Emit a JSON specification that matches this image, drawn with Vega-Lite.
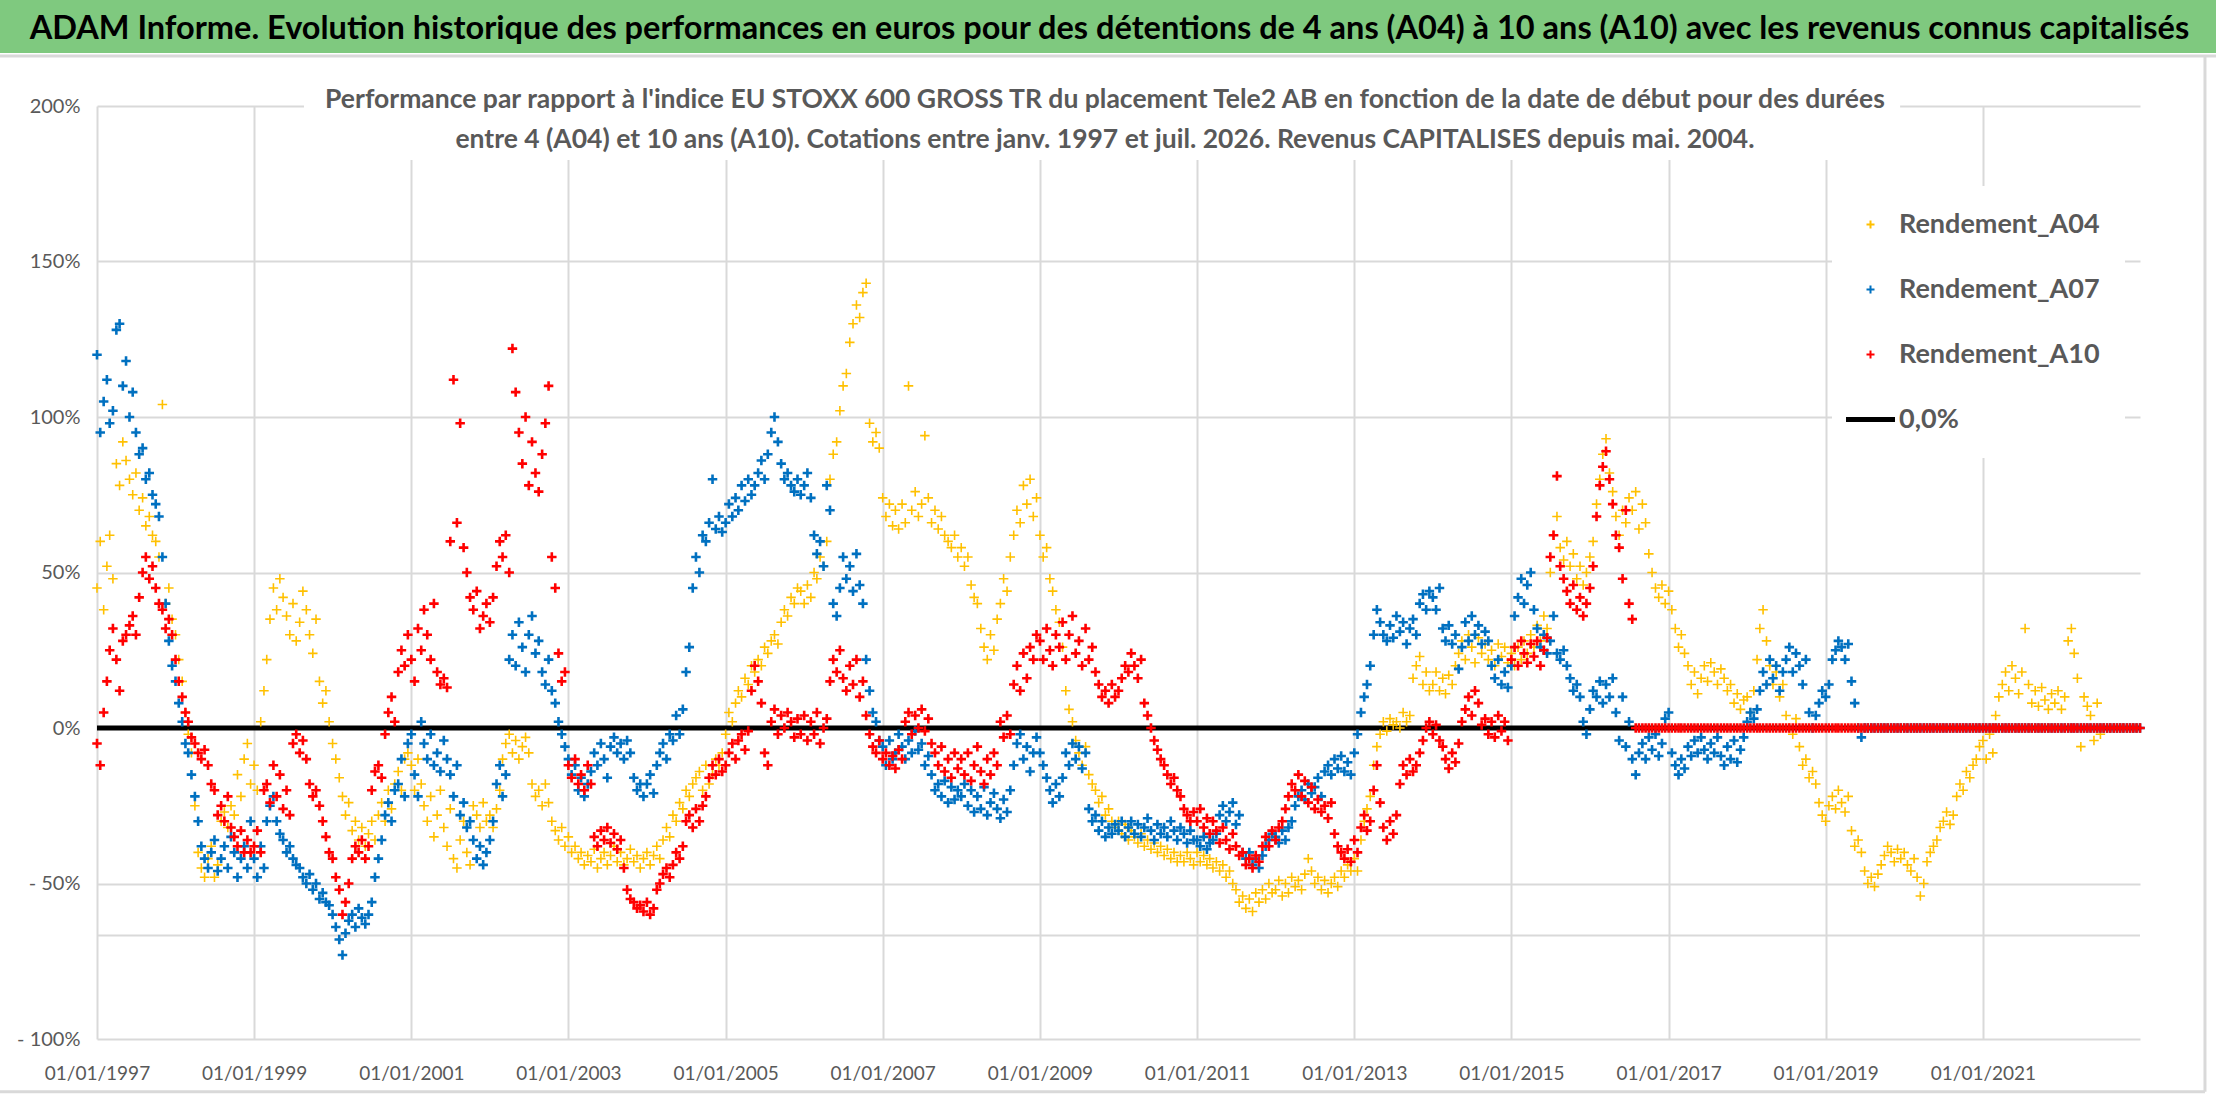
{
  "$schema": "https://vega.github.io/schema/vega-lite/v6.json",
  "width": 2043,
  "height": 933,
  "autosize": {"type": "none"},
  "padding": {"left": 97, "top": 106, "right": 76, "bottom": 63},
  "background": "#FFFFFF",
  "config": {
    "view": {"stroke": null},
    "font": "Lato",
    "axis": {"labelFont": "Lato", "labelColor": "#595959", "labelFontSize": 20, "gridColor": "#D9D9D9", "gridWidth": 2, "ticks": false, "tickSize": 0, "domain": false, "title": null}
  },
  "datasets": {
    "perf": [
      {"d":"1997-01-01","a":0.45,"b":1.2,"c":-0.05},{"d":"1997-01-16","a":0.6,"b":0.95,"c":-0.12},{"d":"1997-02-01","a":0.38,"b":1.05,"c":0.05},{"d":"1997-02-16","a":0.52,"b":1.12,"c":0.15},
      {"d":"1997-03-01","a":0.62,"b":0.98,"c":0.25},{"d":"1997-03-16","a":0.48,"b":1.02,"c":0.32},{"d":"1997-04-01","a":0.85,"b":1.28,"c":0.22},{"d":"1997-04-16","a":0.78,"b":1.3,"c":0.12},
      {"d":"1997-05-01","a":0.92,"b":1.1,"c":0.28},{"d":"1997-05-16","a":0.86,"b":1.18,"c":0.3},{"d":"1997-06-01","a":0.8,"b":1.0,"c":0.33},{"d":"1997-06-16","a":0.75,"b":1.08,"c":0.36},
      {"d":"1997-07-01","a":0.82,"b":0.95,"c":0.3},{"d":"1997-07-16","a":0.7,"b":0.88,"c":0.42},{"d":"1997-08-01","a":0.74,"b":0.9,"c":0.5},{"d":"1997-08-16","a":0.65,"b":0.8,"c":0.55},
      {"d":"1997-09-01","a":0.68,"b":0.82,"c":0.48},{"d":"1997-09-16","a":0.62,"b":0.75,"c":0.52},{"d":"1997-10-01","a":0.6,"b":0.72,"c":0.45},{"d":"1997-10-16","a":0.55,"b":0.68,"c":0.4},
      {"d":"1997-11-01","a":1.04,"b":0.55,"c":0.38},{"d":"1997-11-16","a":0.4,"b":0.4,"c":0.32},{"d":"1997-12-01","a":0.45,"b":0.28,"c":0.35},{"d":"1997-12-16","a":0.35,"b":0.2,"c":0.3},
      {"d":"1998-01-01","a":0.3,"b":0.15,"c":0.22},{"d":"1998-01-16","a":0.22,"b":0.08,"c":0.15},{"d":"1998-02-01","a":0.15,"b":0.02,"c":0.1},{"d":"1998-02-16","a":0.05,"b":-0.05,"c":0.05},
      {"d":"1998-03-01","a":-0.02,"b":-0.08,"c":0.02},{"d":"1998-03-16","a":-0.08,"b":-0.15,"c":-0.03},{"d":"1998-04-01","a":-0.25,"b":-0.22,"c":-0.05},{"d":"1998-04-16","a":-0.4,"b":-0.3,"c":-0.08},
      {"d":"1998-05-01","a":-0.45,"b":-0.38,"c":-0.1},{"d":"1998-05-16","a":-0.48,"b":-0.42,"c":-0.07},{"d":"1998-06-01","a":-0.42,"b":-0.45,"c":-0.12},{"d":"1998-06-16","a":-0.38,"b":-0.4,"c":-0.18},
      {"d":"1998-07-01","a":-0.48,"b":-0.36,"c":-0.2},{"d":"1998-07-16","a":-0.44,"b":-0.46,"c":-0.28},{"d":"1998-08-01","a":-0.3,"b":-0.42,"c":-0.25},{"d":"1998-08-16","a":-0.27,"b":-0.38,"c":-0.3},
      {"d":"1998-09-01","a":-0.32,"b":-0.45,"c":-0.22},{"d":"1998-09-16","a":-0.25,"b":-0.35,"c":-0.32},{"d":"1998-10-01","a":-0.28,"b":-0.4,"c":-0.35},{"d":"1998-10-16","a":-0.15,"b":-0.48,"c":-0.38},
      {"d":"1998-11-01","a":-0.22,"b":-0.42,"c":-0.33},{"d":"1998-11-16","a":-0.1,"b":-0.38,"c":-0.4},{"d":"1998-12-01","a":-0.05,"b":-0.45,"c":-0.36},{"d":"1998-12-16","a":-0.18,"b":-0.3,"c":-0.4},
      {"d":"1999-01-01","a":-0.12,"b":-0.42,"c":-0.38},{"d":"1999-01-16","a":-0.2,"b":-0.48,"c":-0.33},{"d":"1999-02-01","a":0.02,"b":-0.38,"c":-0.4},{"d":"1999-02-16","a":0.12,"b":-0.45,"c":-0.2},
      {"d":"1999-03-01","a":0.22,"b":-0.3,"c":-0.18},{"d":"1999-03-16","a":0.35,"b":-0.25,"c":-0.24},{"d":"1999-04-01","a":0.45,"b":-0.22,"c":-0.12},{"d":"1999-04-16","a":0.38,"b":-0.3,"c":-0.22},
      {"d":"1999-05-01","a":0.48,"b":-0.34,"c":-0.15},{"d":"1999-05-16","a":0.42,"b":-0.36,"c":-0.26},{"d":"1999-06-01","a":0.36,"b":-0.4,"c":-0.2},{"d":"1999-06-16","a":0.3,"b":-0.38,"c":-0.28},
      {"d":"1999-07-01","a":0.4,"b":-0.42,"c":-0.05},{"d":"1999-07-16","a":0.28,"b":-0.44,"c":-0.02},{"d":"1999-08-01","a":0.34,"b":-0.45,"c":-0.08},{"d":"1999-08-16","a":0.44,"b":-0.48,"c":-0.04},
      {"d":"1999-09-01","a":0.38,"b":-0.5,"c":-0.1},{"d":"1999-09-16","a":0.3,"b":-0.47,"c":-0.18},{"d":"1999-10-01","a":0.24,"b":-0.52,"c":-0.22},{"d":"1999-10-16","a":0.35,"b":-0.5,"c":-0.2},
      {"d":"1999-11-01","a":0.15,"b":-0.55,"c":-0.25},{"d":"1999-11-16","a":0.08,"b":-0.53,"c":-0.3},{"d":"1999-12-01","a":0.12,"b":-0.56,"c":-0.35},{"d":"1999-12-16","a":0.02,"b":-0.57,"c":-0.4},
      {"d":"2000-01-01","a":-0.05,"b":-0.6,"c":-0.42},{"d":"2000-01-16","a":-0.1,"b":-0.64,"c":-0.48},{"d":"2000-02-01","a":-0.16,"b":-0.68,"c":-0.52},{"d":"2000-02-16","a":-0.22,"b":-0.73,"c":-0.6},
      {"d":"2000-03-01","a":-0.28,"b":-0.66,"c":-0.56},{"d":"2000-03-16","a":-0.24,"b":-0.62,"c":-0.5},{"d":"2000-04-01","a":-0.33,"b":-0.6,"c":-0.42},{"d":"2000-04-16","a":-0.3,"b":-0.64,"c":-0.38},
      {"d":"2000-05-01","a":-0.36,"b":-0.58,"c":-0.4},{"d":"2000-05-16","a":-0.32,"b":-0.61,"c":-0.36},{"d":"2000-06-01","a":-0.38,"b":-0.63,"c":-0.42},{"d":"2000-06-16","a":-0.34,"b":-0.6,"c":-0.38},
      {"d":"2000-07-01","a":-0.3,"b":-0.56,"c":-0.2},{"d":"2000-07-16","a":-0.36,"b":-0.48,"c":-0.14},{"d":"2000-08-01","a":-0.28,"b":-0.42,"c":-0.12},{"d":"2000-08-16","a":-0.24,"b":-0.36,"c":-0.16},
      {"d":"2000-09-01","a":-0.3,"b":-0.28,"c":-0.02},{"d":"2000-09-16","a":-0.2,"b":-0.24,"c":0.05},{"d":"2000-10-01","a":-0.26,"b":-0.3,"c":0.1},{"d":"2000-10-16","a":-0.18,"b":-0.2,"c":0.02},
      {"d":"2000-11-01","a":-0.14,"b":-0.18,"c":0.18},{"d":"2000-11-16","a":-0.2,"b":-0.1,"c":0.25},{"d":"2000-12-01","a":-0.1,"b":-0.22,"c":0.2},{"d":"2000-12-16","a":-0.08,"b":-0.05,"c":0.3},
      {"d":"2001-01-01","a":-0.12,"b":-0.02,"c":0.22},{"d":"2001-01-16","a":-0.2,"b":-0.15,"c":0.15},{"d":"2001-02-01","a":-0.1,"b":-0.22,"c":0.32},{"d":"2001-02-16","a":-0.18,"b":0.02,"c":0.25},
      {"d":"2001-03-01","a":-0.25,"b":-0.05,"c":0.38},{"d":"2001-03-16","a":-0.3,"b":-0.1,"c":0.3},{"d":"2001-04-01","a":-0.22,"b":-0.02,"c":0.22},{"d":"2001-04-16","a":-0.35,"b":-0.12,"c":0.4},
      {"d":"2001-05-01","a":-0.28,"b":-0.08,"c":0.18},{"d":"2001-05-16","a":-0.2,"b":-0.14,"c":0.14},{"d":"2001-06-01","a":-0.32,"b":-0.04,"c":0.16},{"d":"2001-06-16","a":-0.38,"b":-0.1,"c":0.13},
      {"d":"2001-07-01","a":-0.26,"b":-0.15,"c":0.6},{"d":"2001-07-16","a":-0.42,"b":-0.22,"c":1.12},{"d":"2001-08-01","a":-0.45,"b":-0.12,"c":0.66},{"d":"2001-08-16","a":-0.36,"b":-0.28,"c":0.98},
      {"d":"2001-09-01","a":-0.3,"b":-0.24,"c":0.58},{"d":"2001-09-16","a":-0.4,"b":-0.32,"c":0.5},{"d":"2001-10-01","a":-0.44,"b":-0.3,"c":0.42},{"d":"2001-10-16","a":-0.25,"b":-0.36,"c":0.38},
      {"d":"2001-11-01","a":-0.28,"b":-0.42,"c":0.44},{"d":"2001-11-16","a":-0.32,"b":-0.38,"c":0.32},{"d":"2001-12-01","a":-0.24,"b":-0.44,"c":0.36},{"d":"2001-12-16","a":-0.3,"b":-0.4,"c":0.4},
      {"d":"2002-01-01","a":-0.28,"b":-0.36,"c":0.34},{"d":"2002-01-16","a":-0.32,"b":-0.3,"c":0.42},{"d":"2002-02-01","a":-0.26,"b":-0.18,"c":0.52},{"d":"2002-02-16","a":-0.2,"b":-0.12,"c":0.6},
      {"d":"2002-03-01","a":-0.1,"b":-0.22,"c":0.55},{"d":"2002-03-16","a":-0.05,"b":-0.15,"c":0.62},{"d":"2002-04-01","a":-0.02,"b":0.22,"c":0.5},{"d":"2002-04-16","a":-0.08,"b":0.3,"c":1.22},
      {"d":"2002-05-01","a":-0.04,"b":0.2,"c":1.08},{"d":"2002-05-16","a":-0.1,"b":0.34,"c":0.95},{"d":"2002-06-01","a":-0.06,"b":0.26,"c":0.85},{"d":"2002-06-16","a":-0.03,"b":0.18,"c":1.0},
      {"d":"2002-07-01","a":-0.08,"b":0.3,"c":0.78},{"d":"2002-07-16","a":-0.18,"b":0.36,"c":0.92},{"d":"2002-08-01","a":-0.22,"b":0.24,"c":0.82},{"d":"2002-08-16","a":-0.2,"b":0.28,"c":0.76},
      {"d":"2002-09-01","a":-0.25,"b":0.18,"c":0.88},{"d":"2002-09-16","a":-0.18,"b":0.14,"c":0.98},{"d":"2002-10-01","a":-0.24,"b":0.22,"c":1.1},{"d":"2002-10-16","a":-0.3,"b":0.12,"c":0.55},
      {"d":"2002-11-01","a":-0.33,"b":0.08,"c":0.45},{"d":"2002-11-16","a":-0.36,"b":0.02,"c":0.24},{"d":"2002-12-01","a":-0.32,"b":-0.02,"c":0.15},{"d":"2002-12-16","a":-0.38,"b":-0.06,"c":0.18},
      {"d":"2003-01-01","a":-0.35,"b":-0.1,"c":-0.12},{"d":"2003-01-16","a":-0.4,"b":-0.15,"c":-0.16},{"d":"2003-02-01","a":-0.38,"b":-0.12,"c":-0.1},{"d":"2003-02-16","a":-0.42,"b":-0.2,"c":-0.18},
      {"d":"2003-03-01","a":-0.4,"b":-0.16,"c":-0.15},{"d":"2003-03-16","a":-0.44,"b":-0.22,"c":-0.2},{"d":"2003-04-01","a":-0.41,"b":-0.18,"c":-0.12},{"d":"2003-04-16","a":-0.43,"b":-0.14,"c":-0.18},
      {"d":"2003-05-01","a":-0.39,"b":-0.08,"c":-0.35},{"d":"2003-05-16","a":-0.45,"b":-0.12,"c":-0.38},{"d":"2003-06-01","a":-0.42,"b":-0.05,"c":-0.33},{"d":"2003-06-16","a":-0.4,"b":-0.1,"c":-0.36},
      {"d":"2003-07-01","a":-0.44,"b":-0.16,"c":-0.32},{"d":"2003-07-16","a":-0.41,"b":-0.06,"c":-0.37},{"d":"2003-08-01","a":-0.38,"b":-0.03,"c":-0.34},{"d":"2003-08-16","a":-0.43,"b":-0.08,"c":-0.39},
      {"d":"2003-09-01","a":-0.4,"b":-0.05,"c":-0.36},{"d":"2003-09-16","a":-0.44,"b":-0.1,"c":-0.45},{"d":"2003-10-01","a":-0.42,"b":-0.04,"c":-0.52},{"d":"2003-10-16","a":-0.39,"b":-0.08,"c":-0.55},
      {"d":"2003-11-01","a":-0.43,"b":-0.16,"c":-0.56},{"d":"2003-11-16","a":-0.41,"b":-0.2,"c":-0.58},{"d":"2003-12-01","a":-0.45,"b":-0.18,"c":-0.57},{"d":"2003-12-16","a":-0.42,"b":-0.22,"c":-0.59},
      {"d":"2004-01-01","a":-0.4,"b":-0.18,"c":-0.56},{"d":"2004-01-16","a":-0.44,"b":-0.15,"c":-0.6},{"d":"2004-02-01","a":-0.41,"b":-0.21,"c":-0.58},{"d":"2004-02-16","a":-0.38,"b":-0.12,"c":-0.52},
      {"d":"2004-03-01","a":-0.42,"b":-0.08,"c":-0.5},{"d":"2004-03-16","a":-0.36,"b":-0.05,"c":-0.47},{"d":"2004-04-01","a":-0.32,"b":-0.1,"c":-0.45},{"d":"2004-04-16","a":-0.35,"b":-0.02,"c":-0.48},
      {"d":"2004-05-01","a":-0.28,"b":-0.04,"c":-0.44},{"d":"2004-05-16","a":-0.3,"b":0.04,"c":-0.4},{"d":"2004-06-01","a":-0.24,"b":-0.02,"c":-0.42},{"d":"2004-06-16","a":-0.26,"b":0.06,"c":-0.38},
      {"d":"2004-07-01","a":-0.2,"b":0.18,"c":-0.3},{"d":"2004-07-16","a":-0.22,"b":0.26,"c":-0.28},{"d":"2004-08-01","a":-0.18,"b":0.45,"c":-0.32},{"d":"2004-08-16","a":-0.16,"b":0.55,"c":-0.26},
      {"d":"2004-09-01","a":-0.14,"b":0.5,"c":-0.3},{"d":"2004-09-16","a":-0.2,"b":0.62,"c":-0.25},{"d":"2004-10-01","a":-0.12,"b":0.6,"c":-0.22},{"d":"2004-10-16","a":-0.18,"b":0.66,"c":-0.16},
      {"d":"2004-11-01","a":-0.15,"b":0.8,"c":-0.12},{"d":"2004-11-16","a":-0.1,"b":0.64,"c":-0.15},{"d":"2004-12-01","a":-0.12,"b":0.68,"c":-0.1},{"d":"2004-12-16","a":-0.08,"b":0.63,"c":-0.14},
      {"d":"2005-01-01","a":-0.02,"b":0.66,"c":-0.12},{"d":"2005-01-16","a":0.05,"b":0.72,"c":-0.08},{"d":"2005-02-01","a":0.02,"b":0.68,"c":-0.05},{"d":"2005-02-16","a":0.08,"b":0.74,"c":-0.1},
      {"d":"2005-03-01","a":0.12,"b":0.7,"c":-0.04},{"d":"2005-03-16","a":0.1,"b":0.78,"c":-0.02},{"d":"2005-04-01","a":0.16,"b":0.73,"c":-0.07},{"d":"2005-04-16","a":0.14,"b":0.8,"c":-0.01},
      {"d":"2005-05-01","a":0.2,"b":0.75,"c":0.12},{"d":"2005-05-16","a":0.18,"b":0.78,"c":0.2},{"d":"2005-06-01","a":0.22,"b":0.82,"c":0.15},{"d":"2005-06-16","a":0.2,"b":0.86,"c":0.08},
      {"d":"2005-07-01","a":0.26,"b":0.8,"c":-0.08},{"d":"2005-07-16","a":0.24,"b":0.88,"c":-0.12},{"d":"2005-08-01","a":0.28,"b":0.95,"c":0.02},{"d":"2005-08-16","a":0.3,"b":1.0,"c":0.06},
      {"d":"2005-09-01","a":0.27,"b":0.92,"c":-0.02},{"d":"2005-09-16","a":0.34,"b":0.85,"c":0.04},{"d":"2005-10-01","a":0.38,"b":0.8,"c":0.0},{"d":"2005-10-16","a":0.36,"b":0.82,"c":0.05},
      {"d":"2005-11-01","a":0.42,"b":0.78,"c":0.02},{"d":"2005-11-16","a":0.4,"b":0.76,"c":-0.03},{"d":"2005-12-01","a":0.45,"b":0.8,"c":0.03},{"d":"2005-12-16","a":0.44,"b":0.75,"c":-0.02},
      {"d":"2006-01-01","a":0.4,"b":0.78,"c":0.04},{"d":"2006-01-16","a":0.46,"b":0.82,"c":-0.04},{"d":"2006-02-01","a":0.42,"b":0.74,"c":0.02},{"d":"2006-02-16","a":0.5,"b":0.62,"c":-0.02},
      {"d":"2006-03-01","a":0.48,"b":0.56,"c":0.05},{"d":"2006-03-16","a":0.55,"b":0.6,"c":-0.05},{"d":"2006-04-01","a":0.52,"b":0.52,"c":0.0},{"d":"2006-04-16","a":0.6,"b":0.78,"c":0.03},
      {"d":"2006-05-01","a":0.8,"b":0.7,"c":0.15},{"d":"2006-05-16","a":0.88,"b":0.4,"c":0.22},{"d":"2006-06-01","a":0.92,"b":0.36,"c":0.18},{"d":"2006-06-16","a":1.02,"b":0.45,"c":0.25},
      {"d":"2006-07-01","a":1.1,"b":0.55,"c":0.16},{"d":"2006-07-16","a":1.14,"b":0.48,"c":0.12},{"d":"2006-08-01","a":1.24,"b":0.52,"c":0.2},{"d":"2006-08-16","a":1.3,"b":0.44,"c":0.14},
      {"d":"2006-09-01","a":1.36,"b":0.56,"c":0.22},{"d":"2006-09-16","a":1.32,"b":0.46,"c":0.1},{"d":"2006-10-01","a":1.4,"b":0.4,"c":0.15},{"d":"2006-10-16","a":1.43,"b":0.22,"c":0.04},
      {"d":"2006-11-01","a":0.98,"b":0.12,"c":-0.02},{"d":"2006-11-16","a":0.92,"b":0.05,"c":-0.06},{"d":"2006-12-01","a":0.95,"b":0.02,"c":-0.08},{"d":"2006-12-16","a":0.9,"b":-0.04,"c":-0.04},
      {"d":"2007-01-01","a":0.74,"b":-0.06,"c":-0.1},{"d":"2007-01-16","a":0.68,"b":-0.12,"c":-0.08},{"d":"2007-02-01","a":0.72,"b":-0.04,"c":-0.12},{"d":"2007-02-16","a":0.65,"b":-0.1,"c":-0.09},
      {"d":"2007-03-01","a":0.7,"b":-0.08,"c":-0.13},{"d":"2007-03-16","a":0.64,"b":-0.02,"c":-0.07},{"d":"2007-04-01","a":0.72,"b":-0.06,"c":-0.1},{"d":"2007-04-16","a":0.66,"b":-0.1,"c":0.02},
      {"d":"2007-05-01","a":1.1,"b":-0.04,"c":0.05},{"d":"2007-05-16","a":0.7,"b":-0.08,"c":-0.02},{"d":"2007-06-01","a":0.76,"b":-0.01,"c":0.04},{"d":"2007-06-16","a":0.68,"b":-0.07,"c":0.0},
      {"d":"2007-07-01","a":0.72,"b":-0.05,"c":0.06},{"d":"2007-07-16","a":0.94,"b":-0.12,"c":-0.01},{"d":"2007-08-01","a":0.74,"b":-0.09,"c":0.03},{"d":"2007-08-16","a":0.66,"b":-0.15,"c":-0.05},
      {"d":"2007-09-01","a":0.7,"b":-0.2,"c":-0.08},{"d":"2007-09-16","a":0.64,"b":-0.18,"c":-0.12},{"d":"2007-10-01","a":0.68,"b":-0.22,"c":-0.06},{"d":"2007-10-16","a":0.62,"b":-0.17,"c":-0.14},
      {"d":"2007-11-01","a":0.6,"b":-0.24,"c":-0.1},{"d":"2007-11-16","a":0.58,"b":-0.19,"c":-0.16},{"d":"2007-12-01","a":0.62,"b":-0.23,"c":-0.08},{"d":"2007-12-16","a":0.55,"b":-0.2,"c":-0.13},
      {"d":"2008-01-01","a":0.58,"b":-0.22,"c":-0.1},{"d":"2008-01-16","a":0.52,"b":-0.18,"c":-0.15},{"d":"2008-02-01","a":0.55,"b":-0.25,"c":-0.08},{"d":"2008-02-16","a":0.46,"b":-0.2,"c":-0.17},
      {"d":"2008-03-01","a":0.42,"b":-0.27,"c":-0.12},{"d":"2008-03-16","a":0.4,"b":-0.22,"c":-0.06},{"d":"2008-04-01","a":0.32,"b":-0.26,"c":-0.14},{"d":"2008-04-16","a":0.26,"b":-0.19,"c":-0.18},
      {"d":"2008-05-01","a":0.22,"b":-0.28,"c":-0.1},{"d":"2008-05-16","a":0.3,"b":-0.24,"c":-0.15},{"d":"2008-06-01","a":0.25,"b":-0.21,"c":-0.08},{"d":"2008-06-16","a":0.35,"b":-0.26,"c":-0.12},
      {"d":"2008-07-01","a":0.4,"b":-0.29,"c":0.02},{"d":"2008-07-16","a":0.48,"b":-0.23,"c":-0.03},{"d":"2008-08-01","a":0.44,"b":-0.27,"c":0.04},{"d":"2008-08-16","a":0.55,"b":-0.2,"c":-0.02},
      {"d":"2008-09-01","a":0.62,"b":-0.12,"c":0.14},{"d":"2008-09-16","a":0.7,"b":-0.05,"c":0.2},{"d":"2008-10-01","a":0.66,"b":-0.02,"c":0.12},{"d":"2008-10-16","a":0.78,"b":-0.1,"c":0.24},
      {"d":"2008-11-01","a":0.72,"b":-0.06,"c":0.16},{"d":"2008-11-16","a":0.8,"b":-0.14,"c":0.26},{"d":"2008-12-01","a":0.68,"b":-0.08,"c":0.22},{"d":"2008-12-16","a":0.74,"b":-0.03,"c":0.3},
      {"d":"2009-01-01","a":0.62,"b":-0.08,"c":0.28},{"d":"2009-01-16","a":0.55,"b":-0.12,"c":0.22},{"d":"2009-02-01","a":0.58,"b":-0.16,"c":0.32},{"d":"2009-02-16","a":0.48,"b":-0.2,"c":0.25},
      {"d":"2009-03-01","a":0.44,"b":-0.24,"c":0.2},{"d":"2009-03-16","a":0.38,"b":-0.18,"c":0.3},{"d":"2009-04-01","a":0.34,"b":-0.22,"c":0.26},{"d":"2009-04-16","a":0.26,"b":-0.16,"c":0.34},
      {"d":"2009-05-01","a":0.12,"b":-0.08,"c":0.22},{"d":"2009-05-16","a":0.06,"b":-0.12,"c":0.3},{"d":"2009-06-01","a":0.02,"b":-0.05,"c":0.36},{"d":"2009-06-16","a":-0.04,"b":-0.1,"c":0.24},
      {"d":"2009-07-01","a":-0.08,"b":-0.06,"c":0.28},{"d":"2009-07-16","a":-0.12,"b":-0.13,"c":0.2},{"d":"2009-08-01","a":-0.06,"b":-0.08,"c":0.32},{"d":"2009-08-16","a":-0.15,"b":-0.26,"c":0.22},
      {"d":"2009-09-01","a":-0.18,"b":-0.3,"c":0.26},{"d":"2009-09-16","a":-0.2,"b":-0.28,"c":0.18},{"d":"2009-10-01","a":-0.24,"b":-0.33,"c":0.14},{"d":"2009-10-16","a":-0.22,"b":-0.3,"c":0.1},
      {"d":"2009-11-01","a":-0.28,"b":-0.35,"c":0.12},{"d":"2009-11-16","a":-0.26,"b":-0.32,"c":0.08},{"d":"2009-12-01","a":-0.3,"b":-0.34,"c":0.14},{"d":"2009-12-16","a":-0.32,"b":-0.31,"c":0.1},
      {"d":"2010-01-01","a":-0.3,"b":-0.33,"c":0.12},{"d":"2010-01-16","a":-0.34,"b":-0.3,"c":0.16},{"d":"2010-02-01","a":-0.31,"b":-0.35,"c":0.2},{"d":"2010-02-16","a":-0.36,"b":-0.32,"c":0.18},
      {"d":"2010-03-01","a":-0.33,"b":-0.3,"c":0.24},{"d":"2010-03-16","a":-0.35,"b":-0.34,"c":0.2},{"d":"2010-04-01","a":-0.37,"b":-0.31,"c":0.16},{"d":"2010-04-16","a":-0.34,"b":-0.35,"c":0.22},
      {"d":"2010-05-01","a":-0.38,"b":-0.32,"c":0.08},{"d":"2010-05-16","a":-0.36,"b":-0.29,"c":0.04},{"d":"2010-06-01","a":-0.39,"b":-0.33,"c":0.0},{"d":"2010-06-16","a":-0.37,"b":-0.36,"c":-0.04},
      {"d":"2010-07-01","a":-0.4,"b":-0.31,"c":-0.07},{"d":"2010-07-16","a":-0.38,"b":-0.34,"c":-0.1},{"d":"2010-08-01","a":-0.41,"b":-0.32,"c":-0.12},{"d":"2010-08-16","a":-0.39,"b":-0.35,"c":-0.15},
      {"d":"2010-09-01","a":-0.42,"b":-0.3,"c":-0.18},{"d":"2010-09-16","a":-0.4,"b":-0.33,"c":-0.16},{"d":"2010-10-01","a":-0.43,"b":-0.36,"c":-0.2},{"d":"2010-10-16","a":-0.41,"b":-0.32,"c":-0.22},
      {"d":"2010-11-01","a":-0.43,"b":-0.34,"c":-0.26},{"d":"2010-11-16","a":-0.4,"b":-0.37,"c":-0.28},{"d":"2010-12-01","a":-0.42,"b":-0.33,"c":-0.3},{"d":"2010-12-16","a":-0.44,"b":-0.36,"c":-0.27},
      {"d":"2011-01-01","a":-0.4,"b":-0.36,"c":-0.3},{"d":"2011-01-16","a":-0.43,"b":-0.38,"c":-0.26},{"d":"2011-02-01","a":-0.41,"b":-0.35,"c":-0.32},{"d":"2011-02-16","a":-0.44,"b":-0.39,"c":-0.29},
      {"d":"2011-03-01","a":-0.42,"b":-0.37,"c":-0.34},{"d":"2011-03-16","a":-0.45,"b":-0.36,"c":-0.3},{"d":"2011-04-01","a":-0.43,"b":-0.34,"c":-0.33},{"d":"2011-04-16","a":-0.46,"b":-0.28,"c":-0.37},
      {"d":"2011-05-01","a":-0.44,"b":-0.25,"c":-0.32},{"d":"2011-05-16","a":-0.48,"b":-0.3,"c":-0.36},{"d":"2011-06-01","a":-0.46,"b":-0.27,"c":-0.39},{"d":"2011-06-16","a":-0.5,"b":-0.24,"c":-0.34},
      {"d":"2011-07-01","a":-0.52,"b":-0.31,"c":-0.38},{"d":"2011-07-16","a":-0.56,"b":-0.28,"c":-0.41},{"d":"2011-08-01","a":-0.54,"b":-0.4,"c":-0.4},{"d":"2011-08-16","a":-0.58,"b":-0.42,"c":-0.44},
      {"d":"2011-09-01","a":-0.55,"b":-0.4,"c":-0.42},{"d":"2011-09-16","a":-0.59,"b":-0.44,"c":-0.45},{"d":"2011-10-01","a":-0.53,"b":-0.42,"c":-0.41},{"d":"2011-10-16","a":-0.56,"b":-0.45,"c":-0.43},
      {"d":"2011-11-01","a":-0.52,"b":-0.41,"c":-0.38},{"d":"2011-11-16","a":-0.55,"b":-0.38,"c":-0.35},{"d":"2011-12-01","a":-0.5,"b":-0.36,"c":-0.38},{"d":"2011-12-16","a":-0.53,"b":-0.34,"c":-0.33},
      {"d":"2012-01-01","a":-0.52,"b":-0.35,"c":-0.36},{"d":"2012-01-16","a":-0.49,"b":-0.37,"c":-0.32},{"d":"2012-02-01","a":-0.54,"b":-0.33,"c":-0.3},{"d":"2012-02-16","a":-0.5,"b":-0.36,"c":-0.26},
      {"d":"2012-03-01","a":-0.53,"b":-0.32,"c":-0.22},{"d":"2012-03-16","a":-0.48,"b":-0.3,"c":-0.18},{"d":"2012-04-01","a":-0.51,"b":-0.25,"c":-0.2},{"d":"2012-04-16","a":-0.49,"b":-0.22,"c":-0.15},
      {"d":"2012-05-01","a":-0.52,"b":-0.2,"c":-0.22},{"d":"2012-05-16","a":-0.47,"b":-0.23,"c":-0.17},{"d":"2012-06-01","a":-0.42,"b":-0.18,"c":-0.24},{"d":"2012-06-16","a":-0.46,"b":-0.21,"c":-0.19},
      {"d":"2012-07-01","a":-0.5,"b":-0.19,"c":-0.26},{"d":"2012-07-16","a":-0.48,"b":-0.16,"c":-0.23},{"d":"2012-08-01","a":-0.52,"b":-0.22,"c":-0.27},{"d":"2012-08-16","a":-0.49,"b":-0.14,"c":-0.25},
      {"d":"2012-09-01","a":-0.53,"b":-0.12,"c":-0.29},{"d":"2012-09-16","a":-0.5,"b":-0.15,"c":-0.24},{"d":"2012-10-01","a":-0.48,"b":-0.1,"c":-0.34},{"d":"2012-10-16","a":-0.51,"b":-0.13,"c":-0.38},
      {"d":"2012-11-01","a":-0.46,"b":-0.09,"c":-0.4},{"d":"2012-11-16","a":-0.48,"b":-0.14,"c":-0.42},{"d":"2012-12-01","a":-0.44,"b":-0.11,"c":-0.39},{"d":"2012-12-16","a":-0.46,"b":-0.15,"c":-0.43},
      {"d":"2013-01-01","a":-0.42,"b":-0.08,"c":-0.36},{"d":"2013-01-16","a":-0.46,"b":-0.02,"c":-0.4},{"d":"2013-02-01","a":-0.36,"b":0.05,"c":-0.32},{"d":"2013-02-16","a":-0.3,"b":0.1,"c":-0.28},
      {"d":"2013-03-01","a":-0.26,"b":0.14,"c":-0.33},{"d":"2013-03-16","a":-0.22,"b":0.2,"c":-0.3},{"d":"2013-04-01","a":-0.12,"b":0.3,"c":-0.2},{"d":"2013-04-16","a":-0.06,"b":0.38,"c":-0.12},
      {"d":"2013-05-01","a":-0.02,"b":0.34,"c":-0.24},{"d":"2013-05-16","a":0.02,"b":0.3,"c":-0.32},{"d":"2013-06-01","a":-0.01,"b":0.28,"c":-0.36},{"d":"2013-06-16","a":0.03,"b":0.33,"c":-0.3},
      {"d":"2013-07-01","a":0.01,"b":0.29,"c":-0.34},{"d":"2013-07-16","a":0.02,"b":0.36,"c":-0.28},{"d":"2013-08-01","a":0.0,"b":0.31,"c":-0.18},{"d":"2013-08-16","a":0.05,"b":0.34,"c":-0.12},
      {"d":"2013-09-01","a":0.02,"b":0.27,"c":-0.15},{"d":"2013-09-16","a":0.04,"b":0.32,"c":-0.1},{"d":"2013-10-01","a":0.16,"b":0.35,"c":-0.14},{"d":"2013-10-16","a":0.2,"b":0.3,"c":-0.12},
      {"d":"2013-11-01","a":0.23,"b":0.4,"c":-0.08},{"d":"2013-11-16","a":0.14,"b":0.43,"c":-0.04},{"d":"2013-12-01","a":0.18,"b":0.38,"c":0.0},{"d":"2013-12-16","a":0.12,"b":0.44,"c":0.02},
      {"d":"2014-01-01","a":0.14,"b":0.42,"c":-0.02},{"d":"2014-01-16","a":0.18,"b":0.38,"c":0.01},{"d":"2014-02-01","a":0.12,"b":0.45,"c":-0.04},{"d":"2014-02-16","a":0.16,"b":0.32,"c":-0.06},
      {"d":"2014-03-01","a":0.11,"b":0.28,"c":-0.1},{"d":"2014-03-16","a":0.17,"b":0.33,"c":-0.13},{"d":"2014-04-01","a":0.14,"b":0.27,"c":-0.08},{"d":"2014-04-16","a":0.2,"b":0.3,"c":-0.11},
      {"d":"2014-05-01","a":0.24,"b":0.19,"c":-0.05},{"d":"2014-05-16","a":0.28,"b":0.26,"c":0.02},{"d":"2014-06-01","a":0.22,"b":0.34,"c":0.06},{"d":"2014-06-16","a":0.3,"b":0.28,"c":0.1},
      {"d":"2014-07-01","a":0.26,"b":0.36,"c":0.04},{"d":"2014-07-16","a":0.21,"b":0.3,"c":0.12},{"d":"2014-08-01","a":0.29,"b":0.33,"c":0.08},{"d":"2014-08-16","a":0.24,"b":0.27,"c":0.01},
      {"d":"2014-09-01","a":0.27,"b":0.31,"c":0.03},{"d":"2014-09-16","a":0.22,"b":0.28,"c":-0.02},{"d":"2014-10-01","a":0.25,"b":0.2,"c":0.02},{"d":"2014-10-16","a":0.2,"b":0.16,"c":-0.03},
      {"d":"2014-11-01","a":0.27,"b":0.22,"c":0.04},{"d":"2014-11-16","a":0.23,"b":0.14,"c":-0.01},{"d":"2014-12-01","a":0.26,"b":0.18,"c":0.02},{"d":"2014-12-16","a":0.21,"b":0.13,"c":-0.04},
      {"d":"2015-01-01","a":0.24,"b":0.2,"c":0.22},{"d":"2015-01-16","a":0.2,"b":0.36,"c":0.26},{"d":"2015-02-01","a":0.26,"b":0.42,"c":0.2},{"d":"2015-02-16","a":0.22,"b":0.48,"c":0.28},
      {"d":"2015-03-01","a":0.28,"b":0.4,"c":0.24},{"d":"2015-03-16","a":0.24,"b":0.46,"c":0.21},{"d":"2015-04-01","a":0.3,"b":0.5,"c":0.27},{"d":"2015-04-16","a":0.26,"b":0.38,"c":0.23},
      {"d":"2015-05-01","a":0.33,"b":0.32,"c":0.28},{"d":"2015-05-16","a":0.28,"b":0.26,"c":0.2},{"d":"2015-06-01","a":0.36,"b":0.3,"c":0.25},{"d":"2015-06-16","a":0.32,"b":0.24,"c":0.29},
      {"d":"2015-07-01","a":0.5,"b":0.28,"c":0.55},{"d":"2015-07-16","a":0.62,"b":0.36,"c":0.62},{"d":"2015-08-01","a":0.68,"b":0.24,"c":0.81},{"d":"2015-08-16","a":0.58,"b":0.22,"c":0.52},
      {"d":"2015-09-01","a":0.54,"b":0.25,"c":0.48},{"d":"2015-09-16","a":0.6,"b":0.2,"c":0.44},{"d":"2015-10-01","a":0.52,"b":0.16,"c":0.4},{"d":"2015-10-16","a":0.56,"b":0.12,"c":0.46},
      {"d":"2015-11-01","a":0.48,"b":0.14,"c":0.38},{"d":"2015-11-16","a":0.52,"b":0.1,"c":0.42},{"d":"2015-12-01","a":0.46,"b":0.02,"c":0.36},{"d":"2015-12-16","a":0.5,"b":-0.02,"c":0.4},
      {"d":"2016-01-01","a":0.55,"b":0.06,"c":0.45},{"d":"2016-01-16","a":0.6,"b":0.12,"c":0.52},{"d":"2016-02-01","a":0.72,"b":0.1,"c":0.68},{"d":"2016-02-16","a":0.8,"b":0.15,"c":0.78},
      {"d":"2016-03-01","a":0.88,"b":0.08,"c":0.84},{"d":"2016-03-16","a":0.93,"b":0.14,"c":0.89},{"d":"2016-04-01","a":0.82,"b":0.1,"c":0.8},{"d":"2016-04-16","a":0.76,"b":0.16,"c":0.72},
      {"d":"2016-05-01","a":0.68,"b":0.05,"c":0.62},{"d":"2016-05-16","a":0.62,"b":-0.04,"c":0.58},{"d":"2016-06-01","a":0.7,"b":0.1,"c":0.48},{"d":"2016-06-16","a":0.66,"b":-0.06,"c":0.7},
      {"d":"2016-07-01","a":0.74,"b":0.02,"c":0.4},{"d":"2016-07-16","a":0.7,"b":-0.1,"c":0.35},{"d":"2016-08-01","a":0.76,"b":-0.15,"c":0},{"d":"2016-08-16","a":0.64,"b":-0.08,"c":0},
      {"d":"2016-09-01","a":0.72,"b":-0.05,"c":0},{"d":"2016-09-16","a":0.66,"b":-0.1,"c":0},{"d":"2016-10-01","a":0.56,"b":-0.03,"c":0},{"d":"2016-10-16","a":0.5,"b":-0.07,"c":0},
      {"d":"2016-11-01","a":0.45,"b":-0.02,"c":0},{"d":"2016-11-16","a":0.42,"b":-0.09,"c":0},{"d":"2016-12-01","a":0.46,"b":-0.05,"c":0},{"d":"2016-12-16","a":0.4,"b":0.03,"c":0},
      {"d":"2017-01-01","a":0.44,"b":0.05,"c":0},{"d":"2017-01-16","a":0.38,"b":-0.08,"c":0},{"d":"2017-02-01","a":0.32,"b":-0.12,"c":0},{"d":"2017-02-16","a":0.26,"b":-0.15,"c":0},
      {"d":"2017-03-01","a":0.3,"b":-0.1,"c":0},{"d":"2017-03-16","a":0.24,"b":-0.13,"c":0},{"d":"2017-04-01","a":0.2,"b":-0.06,"c":0},{"d":"2017-04-16","a":0.14,"b":-0.09,"c":0},
      {"d":"2017-05-01","a":0.18,"b":-0.04,"c":0},{"d":"2017-05-16","a":0.11,"b":-0.08,"c":0},{"d":"2017-06-01","a":0.16,"b":-0.03,"c":0},{"d":"2017-06-16","a":0.2,"b":-0.07,"c":0},
      {"d":"2017-07-01","a":0.15,"b":-0.1,"c":0},{"d":"2017-07-16","a":0.21,"b":-0.05,"c":0},{"d":"2017-08-01","a":0.18,"b":-0.08,"c":0},{"d":"2017-08-16","a":0.14,"b":-0.03,"c":0},
      {"d":"2017-09-01","a":0.19,"b":-0.09,"c":0},{"d":"2017-09-16","a":0.16,"b":-0.12,"c":0},{"d":"2017-10-01","a":0.12,"b":-0.06,"c":0},{"d":"2017-10-16","a":0.14,"b":-0.1,"c":0},
      {"d":"2017-11-01","a":0.08,"b":-0.04,"c":0},{"d":"2017-11-16","a":0.11,"b":-0.11,"c":0},{"d":"2017-12-01","a":0.06,"b":-0.07,"c":0},{"d":"2017-12-16","a":0.09,"b":-0.03,"c":0},
      {"d":"2018-01-01","a":0.1,"b":0.02,"c":0},{"d":"2018-01-16","a":0.05,"b":0.05,"c":0},{"d":"2018-02-01","a":0.12,"b":0.03,"c":0},{"d":"2018-02-16","a":0.22,"b":0.06,"c":0},
      {"d":"2018-03-01","a":0.32,"b":0.12,"c":0},{"d":"2018-03-16","a":0.38,"b":0.18,"c":0},{"d":"2018-04-01","a":0.28,"b":0.14,"c":0},{"d":"2018-04-16","a":0.2,"b":0.22,"c":0},
      {"d":"2018-05-01","a":0.14,"b":0.16,"c":0},{"d":"2018-05-16","a":0.18,"b":0.2,"c":0},{"d":"2018-06-01","a":0.1,"b":0.12,"c":0},{"d":"2018-06-16","a":0.14,"b":0.18,"c":0},
      {"d":"2018-07-01","a":0.04,"b":0.22,"c":0},{"d":"2018-07-16","a":0.0,"b":0.26,"c":0},{"d":"2018-08-01","a":-0.02,"b":0.18,"c":0},{"d":"2018-08-16","a":0.03,"b":0.24,"c":0},
      {"d":"2018-09-01","a":-0.06,"b":0.2,"c":0},{"d":"2018-09-16","a":-0.12,"b":0.14,"c":0},{"d":"2018-10-01","a":-0.1,"b":0.22,"c":0},{"d":"2018-10-16","a":-0.16,"b":0.05,"c":0},
      {"d":"2018-11-01","a":-0.14,"b":0.0,"c":0},{"d":"2018-11-16","a":-0.18,"b":0.04,"c":0},{"d":"2018-12-01","a":-0.24,"b":0.08,"c":0},{"d":"2018-12-16","a":-0.28,"b":0.12,"c":0},
      {"d":"2019-01-01","a":-0.3,"b":0.1,"c":0},{"d":"2019-01-16","a":-0.25,"b":0.14,"c":0},{"d":"2019-02-01","a":-0.22,"b":0.22,"c":0},{"d":"2019-02-16","a":-0.26,"b":0.25,"c":0},
      {"d":"2019-03-01","a":-0.2,"b":0.28,"c":0},{"d":"2019-03-16","a":-0.24,"b":0.26,"c":0},{"d":"2019-04-01","a":-0.27,"b":0.22,"c":0},{"d":"2019-04-16","a":-0.22,"b":0.27,"c":0},
      {"d":"2019-05-01","a":-0.33,"b":0.15,"c":0},{"d":"2019-05-16","a":-0.38,"b":0.08,"c":0},{"d":"2019-06-01","a":-0.36,"b":0.0,"c":0},{"d":"2019-06-16","a":-0.4,"b":-0.03,"c":0},
      {"d":"2019-07-01","a":-0.46,"b":0,"c":0},{"d":"2019-07-16","a":-0.5,"b":0,"c":0},{"d":"2019-08-01","a":-0.48,"b":0,"c":0},{"d":"2019-08-16","a":-0.51,"b":0,"c":0},
      {"d":"2019-09-01","a":-0.47,"b":0,"c":0},{"d":"2019-09-16","a":-0.44,"b":0,"c":0},{"d":"2019-10-01","a":-0.41,"b":0,"c":0},{"d":"2019-10-16","a":-0.38,"b":0,"c":0},
      {"d":"2019-11-01","a":-0.4,"b":0,"c":0},{"d":"2019-11-16","a":-0.43,"b":0,"c":0},{"d":"2019-12-01","a":-0.39,"b":0,"c":0},{"d":"2019-12-16","a":-0.42,"b":0,"c":0},
      {"d":"2020-01-01","a":-0.4,"b":0,"c":0},{"d":"2020-01-16","a":-0.44,"b":0,"c":0},{"d":"2020-02-01","a":-0.46,"b":0,"c":0},{"d":"2020-02-16","a":-0.42,"b":0,"c":0},
      {"d":"2020-03-01","a":-0.48,"b":0,"c":0},{"d":"2020-03-16","a":-0.54,"b":0,"c":0},{"d":"2020-04-01","a":-0.5,"b":0,"c":0},{"d":"2020-04-16","a":-0.43,"b":0,"c":0},
      {"d":"2020-05-01","a":-0.4,"b":0,"c":0},{"d":"2020-05-16","a":-0.38,"b":0,"c":0},{"d":"2020-06-01","a":-0.36,"b":0,"c":0},{"d":"2020-06-16","a":-0.32,"b":0,"c":0},
      {"d":"2020-07-01","a":-0.3,"b":0,"c":0},{"d":"2020-07-16","a":-0.27,"b":0,"c":0},{"d":"2020-08-01","a":-0.31,"b":0,"c":0},{"d":"2020-08-16","a":-0.28,"b":0,"c":0},
      {"d":"2020-09-01","a":-0.22,"b":0,"c":0},{"d":"2020-09-16","a":-0.18,"b":0,"c":0},{"d":"2020-10-01","a":-0.2,"b":0,"c":0},{"d":"2020-10-16","a":-0.14,"b":0,"c":0},
      {"d":"2020-11-01","a":-0.16,"b":0,"c":0},{"d":"2020-11-16","a":-0.12,"b":0,"c":0},{"d":"2020-12-01","a":-0.1,"b":0,"c":0},{"d":"2020-12-16","a":-0.06,"b":0,"c":0},
      {"d":"2021-01-01","a":-0.04,"b":0,"c":0},{"d":"2021-01-16","a":-0.1,"b":0,"c":0},{"d":"2021-02-01","a":-0.02,"b":0,"c":0},{"d":"2021-02-16","a":-0.08,"b":0,"c":0},
      {"d":"2021-03-01","a":0.04,"b":0,"c":0},{"d":"2021-03-16","a":0.1,"b":0,"c":0},{"d":"2021-04-01","a":0.14,"b":0,"c":0},{"d":"2021-04-16","a":0.18,"b":0,"c":0},
      {"d":"2021-05-01","a":0.12,"b":0,"c":0},{"d":"2021-05-16","a":0.2,"b":0,"c":0},{"d":"2021-06-01","a":0.16,"b":0,"c":0},{"d":"2021-06-16","a":0.11,"b":0,"c":0},
      {"d":"2021-07-01","a":0.18,"b":0,"c":0},{"d":"2021-07-16","a":0.32,"b":0,"c":0},{"d":"2021-08-01","a":0.14,"b":0,"c":0},{"d":"2021-08-16","a":0.08,"b":0,"c":0},
      {"d":"2021-09-01","a":0.12,"b":0,"c":0},{"d":"2021-09-16","a":0.07,"b":0,"c":0},{"d":"2021-10-01","a":0.13,"b":0,"c":0},{"d":"2021-10-16","a":0.09,"b":0,"c":0},
      {"d":"2021-11-01","a":0.06,"b":0,"c":0},{"d":"2021-11-16","a":0.11,"b":0,"c":0},{"d":"2021-12-01","a":0.08,"b":0,"c":0},{"d":"2021-12-16","a":0.12,"b":0,"c":0},
      {"d":"2022-01-01","a":0.06,"b":0,"c":0},{"d":"2022-01-16","a":0.1,"b":0,"c":0},{"d":"2022-02-01","a":0.28,"b":0,"c":0},{"d":"2022-02-16","a":0.32,"b":0,"c":0},
      {"d":"2022-03-01","a":0.24,"b":0,"c":0},{"d":"2022-03-16","a":0.16,"b":0,"c":0},{"d":"2022-04-01","a":-0.06,"b":0,"c":0},{"d":"2022-04-16","a":0.1,"b":0,"c":0},
      {"d":"2022-05-01","a":0.07,"b":0,"c":0},{"d":"2022-05-16","a":0.04,"b":0,"c":0},{"d":"2022-06-01","a":-0.04,"b":0,"c":0},{"d":"2022-06-16","a":0.08,"b":0,"c":0},
      {"d":"2022-07-01","a":-0.02,"b":0,"c":0},{"d":"2022-07-16","a":0,"b":0,"c":0},{"d":"2022-08-01","a":0,"b":0,"c":0},{"d":"2022-08-16","a":0,"b":0,"c":0},
      {"d":"2022-09-01","a":0,"b":0,"c":0},{"d":"2022-09-16","a":0,"b":0,"c":0},{"d":"2022-10-01","a":0,"b":0,"c":0},{"d":"2022-10-16","a":0,"b":0,"c":0},
      {"d":"2022-11-01","a":0,"b":0,"c":0},{"d":"2022-11-16","a":0,"b":0,"c":0},{"d":"2022-12-01","a":0,"b":0,"c":0},{"d":"2022-12-16","a":0,"b":0,"c":0},
      {"d":"2023-01-01","a":0,"b":0,"c":0}
    ]
  },
  "layer": [
    {
      "data": {"values": [{}]},
      "mark": {"type": "rect", "color": "#FFFFFF"},
      "encoding": {
        "x": {
          "datum": {"year": 1999, "month": 8, "date": 21, "utc": true}, "type": "temporal",
          "scale": {"type": "utc", "nice": false, "domain": [{"year": 1997, "month": 1, "date": 1, "utc": true}, {"year": 2023, "month": 1, "date": 1, "utc": true}]},
          "axis": {
            "title": null, "format": "%d/%m/%Y", "grid": true, "labelPadding": 25, "labelFontSize": 19, "labelOverlap": false, "labelFlush": false,
            "values": [
              {"year": 1997, "month": 1, "date": 1, "utc": true}, {"year": 1999, "month": 1, "date": 1, "utc": true},
              {"year": 2001, "month": 1, "date": 1, "utc": true}, {"year": 2003, "month": 1, "date": 1, "utc": true},
              {"year": 2005, "month": 1, "date": 1, "utc": true}, {"year": 2007, "month": 1, "date": 1, "utc": true},
              {"year": 2009, "month": 1, "date": 1, "utc": true}, {"year": 2011, "month": 1, "date": 1, "utc": true},
              {"year": 2013, "month": 1, "date": 1, "utc": true}, {"year": 2015, "month": 1, "date": 1, "utc": true},
              {"year": 2017, "month": 1, "date": 1, "utc": true}, {"year": 2019, "month": 1, "date": 1, "utc": true},
              {"year": 2021, "month": 1, "date": 1, "utc": true}
            ]
          }
        },
        "x2": {"datum": {"year": 2019, "month": 12, "date": 13, "utc": true}},
        "y": {
          "datum": 2.01, "type": "quantitative",
          "scale": {"domain": [-1, 2], "nice": false, "zero": false},
          "axis": {
            "title": null, "grid": true, "labelPadding": 17, "values": [-1, -0.5, 0, 0.5, 1, 1.5, 2],
            "labelExpr": "datum.value < 0 ? '- ' + format(-datum.value, '.0%') : format(datum.value, '.0%')"
          }
        },
        "y2": {"datum": 1.826}
      }
    },
    {
      "data": {"values": [{}]},
      "mark": {"type": "rule", "color": "#D9D9D9", "strokeWidth": 2},
      "encoding": {"y": {"datum": -0.667, "type": "quantitative"}}
    },
    {
      "data": {"values": [{}]},
      "mark": {"type": "rule", "color": "#000000", "strokeWidth": 5},
      "encoding": {"y": {"datum": 0, "type": "quantitative"}}
    },
    {
      "data": {"name": "perf"},
      "transform": [{"fold": ["a", "b", "c"], "as": ["key", "v"]}, {"filter": "datum.key === 'a'"}],
      "mark": {"type": "point", "filled": false, "size": 90, "strokeWidth": 1.6, "opacity": 1},
      "encoding": {
        "x": {"field": "d", "type": "temporal"},
        "y": {"field": "v", "type": "quantitative"},
        "color": {
          "field": "key", "type": "nominal",
          "scale": {"domain": ["a", "b", "c", "z"], "range": ["#FFC000", "#0070C0", "#FF0000", "#000000"]},
          "legend": {
            "title": null, "orient": "none", "legendX": 1735, "legendY": 80, "padding": 25, "fillColor": "#FFFFFF",
            "labelExpr": "datum.value === 'a' ? 'Rendement_A04' : datum.value === 'b' ? 'Rendement_A07' : datum.value === 'c' ? 'Rendement_A10' : '0,0%'",
            "labelFont": "Lato", "labelFontSize": 27, "labelFontWeight": "bold", "labelColor": "#595959", "labelLimit": 400,
            "labelOffset": 15, "rowPadding": 37,
            "symbolStrokeWidth": {"expr": "datum.value === 'z' ? 5 : 2"},
            "symbolSize": {"expr": "datum.value === 'z' ? 2400 : 64"}
          }
        },
        "shape": {
          "field": "key", "type": "nominal",
          "scale": {"domain": ["a", "b", "c", "z"], "range": ["M-1,0L1,0M0,-1L0,1", "M-1,0L1,0M0,-1L0,1", "M-1,0L1,0M0,-1L0,1", "stroke"]},
          "legend": {
            "title": null, "orient": "none", "legendX": 1735, "legendY": 80, "padding": 25, "fillColor": "#FFFFFF",
            "labelExpr": "datum.value === 'a' ? 'Rendement_A04' : datum.value === 'b' ? 'Rendement_A07' : datum.value === 'c' ? 'Rendement_A10' : '0,0%'",
            "labelFont": "Lato", "labelFontSize": 27, "labelFontWeight": "bold", "labelColor": "#595959", "labelLimit": 400,
            "labelOffset": 15, "rowPadding": 37,
            "symbolStrokeWidth": {"expr": "datum.value === 'z' ? 5 : 2"},
            "symbolSize": {"expr": "datum.value === 'z' ? 2400 : 64"}
          }
        }
      }
    },
    {
      "data": {"name": "perf"},
      "transform": [{"fold": ["a", "b", "c"], "as": ["key", "v"]}, {"filter": "datum.key === 'b'"}],
      "mark": {"type": "point", "filled": false, "size": 90, "strokeWidth": 2.6, "opacity": 1},
      "encoding": {
        "x": {"field": "d", "type": "temporal"},
        "y": {"field": "v", "type": "quantitative"},
        "color": {"field": "key", "type": "nominal"},
        "shape": {"field": "key", "type": "nominal"}
      }
    },
    {
      "data": {"name": "perf"},
      "transform": [{"fold": ["a", "b", "c"], "as": ["key", "v"]}, {"filter": "datum.key === 'c'"}],
      "mark": {"type": "point", "filled": false, "size": 90, "strokeWidth": 2.6, "opacity": 1},
      "encoding": {
        "x": {"field": "d", "type": "temporal"},
        "y": {"field": "v", "type": "quantitative"},
        "color": {"field": "key", "type": "nominal"},
        "shape": {"field": "key", "type": "nominal"}
      }
    },
    {
      "data": {"values": [{}]},
      "mark": {"type": "rect", "color": "#7FC97F"},
      "encoding": {
        "x": {"datum": {"year": 1995, "month": 6, "date": 1, "utc": true}, "type": "temporal"},
        "x2": {"datum": {"year": 2024, "month": 6, "date": 1, "utc": true}},
        "y": {"datum": 2.36, "type": "quantitative"},
        "y2": {"datum": 2.1704}
      }
    },
    {
      "data": {"values": [{}]},
      "mark": {"type": "rule", "color": "#D9D9D9", "strokeWidth": 3},
      "encoding": {
        "x": {"datum": {"year": 1995, "month": 6, "date": 1, "utc": true}, "type": "temporal"},
        "x2": {"datum": {"year": 2024, "month": 6, "date": 1, "utc": true}},
        "y": {"datum": 2.161, "type": "quantitative"}
      }
    },
    {
      "data": {"values": [{}]},
      "mark": {"type": "rule", "color": "#D9D9D9", "strokeWidth": 3},
      "encoding": {
        "x": {"datum": {"year": 2023, "month": 10, "date": 30, "utc": true}, "type": "temporal"},
        "y": {"datum": 2.161, "type": "quantitative"},
        "y2": {"datum": -1.17}
      }
    },
    {
      "data": {"values": [{}]},
      "mark": {"type": "rule", "color": "#D9D9D9", "strokeWidth": 3},
      "encoding": {
        "x": {"datum": {"year": 1995, "month": 6, "date": 1, "utc": true}, "type": "temporal"},
        "x2": {"datum": {"year": 2023, "month": 10, "date": 30, "utc": true}},
        "y": {"datum": -1.17, "type": "quantitative"}
      }
    },
    {
      "data": {"values": [{}]},
      "mark": {"type": "text", "text": "ADAM Informe. Evolution historique des performances en euros pour des détentions de 4 ans (A04) à 10 ans (A10) avec les revenus connus capitalisés", "font": "Lato", "fontSize": 32.5, "fontWeight": "bold", "color": "#000000", "align": "center", "baseline": "middle"},
      "encoding": {
        "x": {"datum": {"year": 2009, "month": 11, "date": 20, "utc": true}, "type": "temporal"},
        "y": {"datum": 2.249, "type": "quantitative"}
      }
    },
    {
      "data": {"values": [{}]},
      "mark": {"type": "text", "text": "Performance par rapport à l'indice EU STOXX 600 GROSS TR  du placement Tele2 AB en fonction de la date de début pour des durées", "font": "Lato", "fontSize": 26.5, "fontWeight": "bold", "color": "#595959", "align": "center", "baseline": "middle"},
      "encoding": {
        "x": {"datum": {"year": 2009, "month": 10, "date": 30, "utc": true}, "type": "temporal"},
        "y": {"datum": 2.019, "type": "quantitative"}
      }
    },
    {
      "data": {"values": [{}]},
      "mark": {"type": "text", "text": "entre 4 (A04) et 10 ans (A10). Cotations entre janv. 1997 et juil. 2026. Revenus CAPITALISES depuis mai. 2004.", "font": "Lato", "fontSize": 26.5, "fontWeight": "bold", "color": "#595959", "align": "center", "baseline": "middle"},
      "encoding": {
        "x": {"datum": {"year": 2009, "month": 10, "date": 30, "utc": true}, "type": "temporal"},
        "y": {"datum": 1.89, "type": "quantitative"}
      }
    }
  ]
}
